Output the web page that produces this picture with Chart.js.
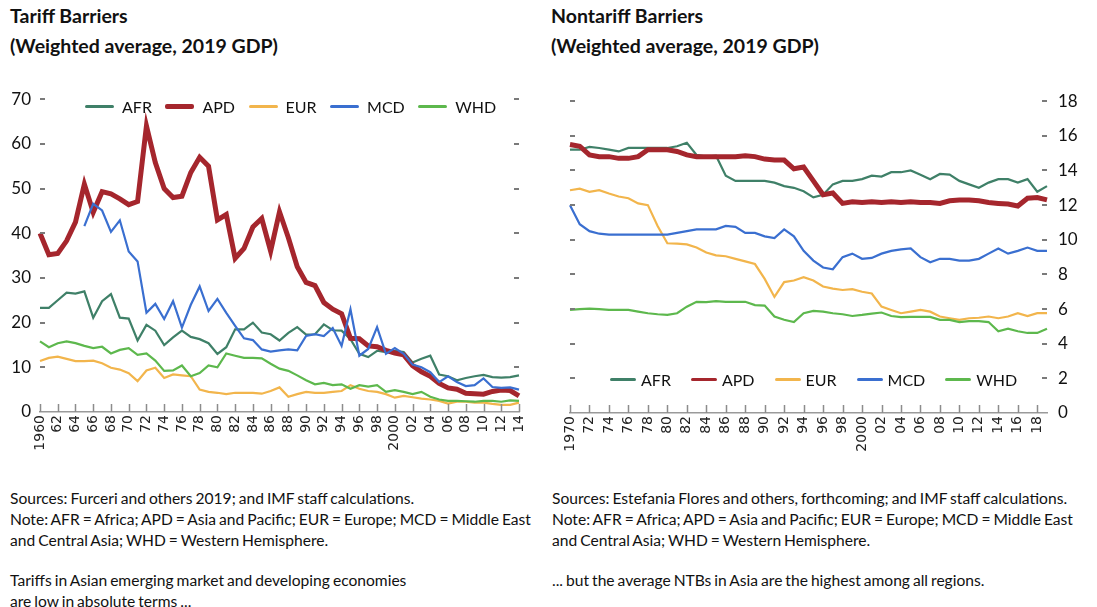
<!DOCTYPE html>
<html lang="en">
<head>
<meta charset="UTF-8">
<title>Tariff and Nontariff Barriers</title>
<script src="https://cdn.jsdelivr.net/npm/chart.js@4"></script>
<style>
  body { margin: 0; background: #fff; width: 1097px; height: 607px; position: relative; overflow: hidden;
         font-family: Lato, "Noto Sans", sans-serif; color: #111; }
  .title { position: absolute; top: 1px; font-weight: 700; font-size: 19.5px; line-height: 30px; white-space: nowrap; }
  canvas { position: absolute; top: 80px; }
  .legend { position: absolute; display: flex; align-items: center; height: 20px; font-size: 16px; white-space: nowrap; }
  .legend .item { display: flex; align-items: center; }
  .legend .swatch { display: inline-block; border-radius: 2px; }
  .note { position: absolute; font-size: 15.6px; line-height: 21px; word-spacing: -1px; white-space: nowrap; }
</style>
</head>
<body>
  <div class="title" style="left:10px">Tariff Barriers<br>(Weighted average, 2019 GDP)</div>
  <div class="title" style="left:551px">Nontariff Barriers<br>(Weighted average, 2019 GDP)</div>

  <canvas id="tariffChart" width="548" height="390" style="left:0"></canvas>
  <canvas id="ntbChart" width="549" height="390" style="left:548px"></canvas>

  <div class="legend" id="tariffLegend" style="left:85px; top:96px"></div>
  <div class="legend" id="ntbLegend" style="left:610px; top:369px"></div>

  <div class="note" style="left:10px; top:488px">Sources: Furceri and others 2019; and IMF staff calculations.<br>Note: AFR = Africa; APD = Asia and Pacific; EUR = Europe; MCD = Middle East<br>and Central Asia; WHD = Western Hemisphere.</div>
  <div class="note" style="left:10px; top:570px">Tariffs in Asian emerging market and developing economies<br>are low in absolute terms ...</div>
  <div class="note" style="left:552px; top:488px">Sources: Estefania Flores and others, forthcoming; and IMF staff calculations.<br>Note: AFR = Africa; APD = Asia and Pacific; EUR = Europe; MCD = Middle East<br>and Central Asia; WHD = Western Hemisphere.</div>
  <div class="note" style="left:552px; top:570px">... but the average NTBs in Asia are the highest among all regions.</div>

<script>
// ---- data: tariff barriers, 1960-2014 ----
const tariffYears = [1960, 1961, 1962, 1963, 1964, 1965, 1966, 1967, 1968, 1969,
  1970, 1971, 1972, 1973, 1974, 1975, 1976, 1977, 1978, 1979,
  1980, 1981, 1982, 1983, 1984, 1985, 1986, 1987, 1988, 1989,
  1990, 1991, 1992, 1993, 1994, 1995, 1996, 1997, 1998, 1999,
  2000, 2001, 2002, 2003, 2004, 2005, 2006, 2007, 2008, 2009,
  2010, 2011, 2012, 2013, 2014];
const tariffAFR = [23.3, 23.3, 25, 26.7, 26.5, 27, 21.1, 24.8, 26.4, 21.1,
  20.9, 16, 19.5, 18.2, 15, 16.7, 18.2, 16.8, 16.3, 15.4,
  13, 14.5, 18.5, 18.5, 20, 17.8, 17.4, 16, 17.7, 19,
  17.3, 17.4, 19.6, 18.3, 18.2, 16.3, 13, 12.3, 13.7, 13.4,
  13.7, 13.4, 11.1, 11.9, 12.6, 8.4, 8, 7.1, 7.6, 8,
  8.3, 7.8, 7.7, 7.8, 8.2];
const tariffAPD = [40, 35.2, 35.5, 38.3, 42.5, 51, 44.7, 49.3, 48.8, 47.7,
  46.4, 47.1, 64, 55.8, 50, 48, 48.3, 53.6, 57, 55,
  43, 44.2, 34.4, 36.6, 41.4, 43.3, 36, 44.8, 39, 32.5,
  29, 28.3, 24.5, 23, 22, 16.5, 16.4, 14.8, 14.6, 13.8,
  13.2, 12.8, 10.4, 9, 8, 6.4, 5.4, 5.1, 4.2, 4.1,
  4, 4.6, 4.9, 4.8, 3.6];
const tariffEUR = [11.4, 12.1, 12.4, 11.9, 11.4, 11.4, 11.5, 10.9, 9.9, 9.5,
  8.7, 6.9, 9.3, 9.9, 7.6, 8.4, 8.2, 8, 5, 4.5,
  4.3, 4, 4.3, 4.3, 4.3, 4.1, 4.7, 5.5, 3.4, 4,
  4.5, 4.3, 4.3, 4.5, 4.7, 6, 5.2, 4.7, 4.5, 4,
  3.2, 3.6, 3.3, 3, 2.8, 2.5, 1.9, 2.3, 2.3, 2.1,
  2.1, 1.8, 1.6, 1.6, 2.1];
const tariffMCD = [null, null, null, null, null, 41.6, 46.6, 45.1, 40.3, 42.9,
  35.9, 33.7, 22.2, 24.2, 20.8, 24.8, 18.9, 24, 28.1, 22.6,
  25.3, 22.2, 19.3, 16.5, 16.1, 14, 13.5, 13.8, 14, 13.8,
  17, 17.4, 17, 18.8, 14.8, 23, 12.6, 14.1, 19, 13,
  14.3, 13, 10.6, 10, 8.9, 6.7, 8, 6.7, 5.8, 6,
  7.5, 5.6, 5.4, 5.5, 5];
const tariffWHD = [15.8, 14.5, 15.4, 15.8, 15.4, 14.8, 14.3, 14.6, 13.1, 13.9,
  14.3, 12.8, 13.1, 11.5, 9.2, 9.3, 10.4, 8, 8.7, 10.4,
  10, 13.1, 12.6, 12.1, 12.1, 12, 10.8, 9.7, 9.2, 8.2,
  7.1, 6.2, 6.5, 6, 6.2, 5.2, 6, 5.7, 6, 4.5,
  4.9, 4.5, 4, 4.5, 3.4, 2.8, 2.5, 2.5, 2.4, 2.3,
  2.5, 2.5, 2.3, 2.6, 2.5];
const tariffTicks = [0, 10, 20, 30, 40, 50, 60, 70];

// ---- data: nontariff barriers, 1970-2019 ----
const ntbYears = [1970, 1971, 1972, 1973, 1974, 1975, 1976, 1977, 1978, 1979,
  1980, 1981, 1982, 1983, 1984, 1985, 1986, 1987, 1988, 1989,
  1990, 1991, 1992, 1993, 1994, 1995, 1996, 1997, 1998, 1999,
  2000, 2001, 2002, 2003, 2004, 2005, 2006, 2007, 2008, 2009,
  2010, 2011, 2012, 2013, 2014, 2015, 2016, 2017, 2018, 2019];
const ntbAFR = [15.2, 15.2, 15.36, 15.3, 15.2, 15.1, 15.3, 15.3, 15.3, 15.3,
  15.3, 15.4, 15.6, 14.9, 14.8, 14.85, 13.7, 13.4, 13.4, 13.4,
  13.4, 13.3, 13.1, 13, 12.8, 12.45, 12.6, 13.2, 13.4, 13.4,
  13.5, 13.7, 13.65, 13.9, 13.9, 14, 13.76, 13.5, 13.8, 13.76,
  13.4, 13.2, 13, 13.3, 13.5, 13.5, 13.3, 13.5, 12.77, 13.1];
const ntbAPD = [15.5, 15.4, 14.9, 14.8, 14.8, 14.7, 14.7, 14.8, 15.2, 15.2,
  15.2, 15.1, 14.9, 14.8, 14.8, 14.8, 14.8, 14.8, 14.85, 14.8,
  14.66, 14.6, 14.6, 14.1, 14.2, 13.4, 12.6, 12.7, 12.1, 12.2,
  12.15, 12.2, 12.15, 12.2, 12.15, 12.2, 12.15, 12.15, 12.1, 12.25,
  12.3, 12.3, 12.25, 12.15, 12.1, 12.06, 11.95, 12.4, 12.44, 12.3];
const ntbEUR = [12.86, 12.95, 12.77, 12.86, 12.67, 12.5, 12.4, 12.1, 12, 10.8,
  9.8, 9.78, 9.73, 9.55, 9.26, 9.1, 9.05, 8.9, 8.75, 8.6,
  7.74, 6.7, 7.56, 7.65, 7.84, 7.65, 7.3, 7.18, 7.1, 7.15,
  7, 6.9, 6.14, 5.95, 5.76, 5.85, 5.95, 5.85, 5.57, 5.47,
  5.38, 5.47, 5.5, 5.57, 5.47, 5.57, 5.76, 5.6, 5.76, 5.76];
const ntbMCD = [12, 10.9, 10.5, 10.35, 10.3, 10.3, 10.3, 10.3, 10.3, 10.3,
  10.3, 10.4, 10.5, 10.6, 10.6, 10.6, 10.8, 10.75, 10.4, 10.4,
  10.2, 10.1, 10.6, 10.2, 9.36, 8.8, 8.4, 8.3, 9, 9.2,
  8.9, 8.95, 9.2, 9.36, 9.45, 9.5, 9, 8.7, 8.9, 8.9,
  8.8, 8.8, 8.9, 9.2, 9.5, 9.2, 9.36, 9.55, 9.36, 9.36];
const ntbWHD = [5.95, 6, 6.03, 6, 5.95, 5.95, 5.95, 5.85, 5.76, 5.7,
  5.66, 5.76, 6.14, 6.42, 6.4, 6.46, 6.42, 6.42, 6.42, 6.23,
  6.2, 5.57, 5.38, 5.25, 5.76, 5.89, 5.85, 5.76, 5.7, 5.6,
  5.66, 5.74, 5.8, 5.6, 5.53, 5.55, 5.55, 5.55, 5.38, 5.38,
  5.25, 5.3, 5.3, 5.25, 4.72, 4.87, 4.72, 4.62, 4.62, 4.87];
const ntbTicks = [0, 2, 4, 6, 8, 10, 12, 14, 16, 18];

const regions = ['AFR', 'APD', 'EUR', 'MCD', 'WHD'];
const colors = { AFR: '#3f8068', APD: '#a5262d', EUR: '#f2b54c', MCD: '#3a6fd0', WHD: '#5db84d' };

// tick marks point inward, like the original
const insideTicks = {
  id: 'insideTicks',
  afterDraw(chart) {
    const { ctx, chartArea: a, scales } = chart;
    ctx.save();
    ctx.strokeStyle = '#8c8c8c';
    ctx.lineWidth = 1.5;
    ctx.beginPath();
    scales.x.ticks.forEach((t, i) => {
      if (i % 2) return;
      const px = Math.round(scales.x.getPixelForTick(i)) + 0.5;
      ctx.moveTo(px, a.bottom);
      ctx.lineTo(px, a.bottom - 8);
    });
    ctx.stroke();
    ctx.strokeStyle = '#7a7a7a';
    ctx.lineWidth = 2;
    ctx.beginPath();
    ['yL', 'yR'].forEach(id => {
      const s = scales[id];
      s.ticks.forEach(t => {
        const py = Math.round(s.getPixelForValue(t.value));
        if (py > a.bottom - 3) return;
        const x0 = s.position === 'left' ? a.left : a.right;
        ctx.moveTo(x0, py);
        ctx.lineTo(s.position === 'left' ? x0 + 5 : x0 - 5, py);
      });
    });
    ctx.stroke();
    ctx.restore();
  }
};

function makeChart(id, years, series, maxY, yTicks, dims) {
  const datasets = regions.map((r, i) => ({
    label: r,
    data: series[i],
    borderColor: colors[r],
    backgroundColor: colors[r],
    borderWidth: r === 'APD' ? 5 : 2.2,
    pointRadius: 0,
    tension: 0,
    fill: false,
    order: regions.length - i,
    yAxisID: 'yL'
  }));
  const yFont = { family: 'Lato, "Noto Sans", sans-serif', size: 17 };
  return new Chart(document.getElementById(id), {
    type: 'line',
    data: { labels: years.map(String), datasets },
    plugins: [insideTicks],
    options: {
      responsive: false,
      animation: false,
      layout: { padding: { top: 16, left: 0, right: 0, bottom: 0 } },
      plugins: { legend: { display: false }, tooltip: { enabled: false } },
      scales: {
        x: {
          type: 'category',
          offset: false,
          grid: { display: false, drawTicks: false },
          border: { display: true, color: '#9a9a9a', width: 1.5 },
          ticks: {
            autoSkip: false, minRotation: 90, maxRotation: 90, padding: 3,
            color: '#222', font: { family: '"DejaVu Sans", sans-serif', size: 14 },
            callback: (v, i) => {
              if (i % 2) return '';
              const yr = years[i];
              return (i === 0 || yr % 100 === 0) ? String(yr) : String(yr).slice(2);
            }
          },
          afterFit: s => { s.height = dims.xHeight; }
        },
        yL: {
          position: 'left', min: 0, max: maxY,
          afterBuildTicks: s => { s.ticks = yTicks.map(v => ({ value: v })); },
          grid: { display: false, drawTicks: false },
          border: { display: false },
          ticks: { display: dims.labelsLeft, padding: 9, color: '#111', font: yFont },
          afterFit: s => { s.width = dims.leftWidth; }
        },
        yR: {
          position: 'right', min: 0, max: maxY,
          afterBuildTicks: s => { s.ticks = yTicks.map(v => ({ value: v })); },
          grid: { display: false, drawTicks: false },
          border: { display: false },
          ticks: { display: !dims.labelsLeft, padding: 11, color: '#111', font: yFont },
          afterFit: s => { s.width = dims.rightWidth; }
        }
      }
    }
  });
}

function buildLegend(elId, chart, opts) {
  const box = document.getElementById(elId);
  chart.data.datasets.forEach((ds, i) => {
    const item = document.createElement('div');
    item.className = 'item';
    item.style.marginRight = (i < chart.data.datasets.length - 1 ? opts.itemGap : 0) + 'px';
    const sw = document.createElement('span');
    sw.className = 'swatch';
    sw.style.width = opts.swatchW + 'px';
    sw.style.height = (ds.label === 'APD' ? opts.apdH : opts.lineH) + 'px';
    sw.style.background = ds.borderColor;
    sw.style.marginRight = opts.textGap + 'px';
    const txt = document.createElement('span');
    txt.textContent = ds.label;
    item.appendChild(sw);
    item.appendChild(txt);
    box.appendChild(item);
  });
}

const tariffChart = makeChart('tariffChart', tariffYears,
  [tariffAFR, tariffAPD, tariffEUR, tariffMCD, tariffWHD], 70, tariffTicks,
  { xHeight: 58, leftWidth: 40, rightWidth: 29, labelsLeft: true });
const ntbChart = makeChart('ntbChart', ntbYears,
  [ntbAFR, ntbAPD, ntbEUR, ntbMCD, ntbWHD], 18, ntbTicks,
  { xHeight: 57, leftWidth: 22, rightWidth: 50, labelsLeft: false });

buildLegend('tariffLegend', tariffChart, { swatchW: 29, textGap: 8, itemGap: 13.5, lineH: 3, apdH: 5 });
buildLegend('ntbLegend', ntbChart, { swatchW: 26, textGap: 5, itemGap: 20, lineH: 3, apdH: 3 });
</script>
</body>
</html>
